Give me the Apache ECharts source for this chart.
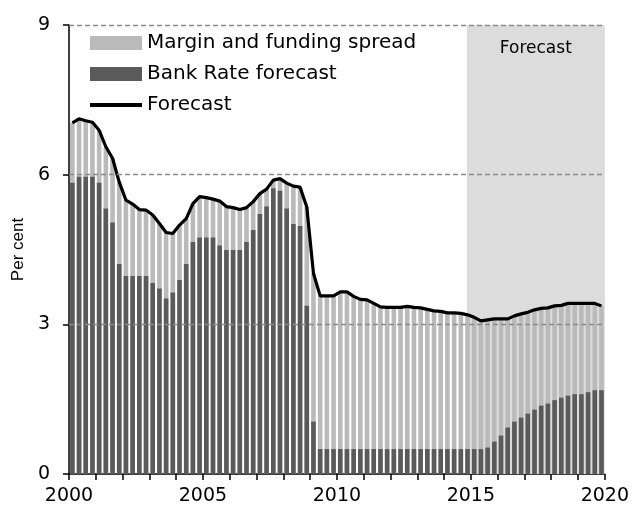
<!DOCTYPE html>
<html>
<head>
<meta charset="utf-8">
<script src="https://cdn.jsdelivr.net/npm/echarts@6/dist/echarts.min.js"></script>
<style>
  html, body { margin: 0; padding: 0; background: #fff; }
  #chart { width: 632px; height: 511px; }
</style>
</head>
<body>
<div id="chart"></div>
<script>
// quarterly, 2000 Q1 .. 2019 Q4
var startYear = 2000;
var yearTicks = [2000, 2005, 2010, 2015, 2020];

// Bank Rate forecast (dark bars)
var bankRate = [
  5.84, 5.96, 5.96, 5.96, 5.84, 5.32, 5.04, 4.21,
  3.97, 3.97, 3.97, 3.97, 3.83, 3.72, 3.52, 3.64,
  3.89, 4.21, 4.65, 4.74, 4.74, 4.74, 4.58, 4.49,
  4.49, 4.49, 4.65, 4.89, 5.21, 5.36, 5.73, 5.68,
  5.32, 5.01, 4.97, 3.37, 1.05, 0.5, 0.5, 0.5,
  0.5, 0.5, 0.5, 0.5, 0.5, 0.5, 0.5, 0.5,
  0.5, 0.5, 0.5, 0.5, 0.5, 0.5, 0.5, 0.5,
  0.5, 0.5, 0.5, 0.5, 0.5, 0.5, 0.53, 0.65,
  0.77, 0.93, 1.05, 1.13, 1.21, 1.29, 1.37, 1.41,
  1.48, 1.53, 1.57, 1.60, 1.60, 1.64, 1.68, 1.68
];

// total rate = Bank Rate + margin (black line, top of light bars)
var forecast = [
  7.04, 7.12, 7.08, 7.05, 6.89, 6.56, 6.33, 5.85,
  5.49, 5.41, 5.30, 5.29, 5.19, 5.02, 4.84, 4.82,
  4.99, 5.12, 5.42, 5.56, 5.54, 5.51, 5.47, 5.36,
  5.34, 5.30, 5.34, 5.46, 5.62, 5.71, 5.89, 5.92,
  5.83, 5.77, 5.75, 5.35, 4.02, 3.57, 3.57, 3.57,
  3.65, 3.65, 3.56, 3.50, 3.49, 3.42, 3.35, 3.34,
  3.34, 3.34, 3.36, 3.34, 3.33, 3.30, 3.27, 3.26,
  3.23, 3.23, 3.22, 3.19, 3.14, 3.07, 3.09, 3.11,
  3.11, 3.11, 3.17, 3.21, 3.24, 3.29, 3.32, 3.33,
  3.37, 3.38, 3.42, 3.42, 3.42, 3.42, 3.42, 3.37
];

var forecastStart = 2014.85;
var forecastEnd = 2020;

// x position of each quarter = middle of the quarter
var quarters = bankRate.map(function (v, i) {
  return startYear + (i + 0.5) / 4;
});
function pairs(arr) {
  return arr.map(function (v, i) { return [quarters[i], v]; });
}

var chart = echarts.init(document.getElementById('chart'));
var font = 'DejaVu Sans';

var option = {
  animation: false,
  backgroundColor: '#fff',
  textStyle: { fontFamily: font },
  grid: { left: 69, right: 24, top: 25, bottom: 37 },
  legend: {
    left: 88,
    top: 33,
    orient: 'vertical',
    padding: 0,
    itemWidth: 52,
    itemHeight: 14,
    itemGap: 11,
    textStyle: { fontSize: 20, color: '#000', fontFamily: font, lineHeight: 20 },
    data: [
      { name: 'Margin and funding spread', icon: 'rect' },
      { name: 'Bank Rate forecast', icon: 'rect' },
      { name: 'Forecast', itemStyle: { opacity: 0 }, lineStyle: { width: 4 } }
    ]
  },
  xAxis: {
    type: 'value',
    min: 2000,
    max: 2020,
    interval: 1,
    splitLine: { show: false },
    axisLine: { lineStyle: { color: '#000', width: 1.5 } },
    axisTick: { length: 6, lineStyle: { color: '#000', width: 1.5 } },
    axisLabel: {
      color: '#000',
      fontSize: 19,
      margin: 13,
      showMaxLabel: true,
      formatter: function (v) {
        return yearTicks.indexOf(v) >= 0 ? String(v) : '';
      }
    }
  },
  yAxis: {
    type: 'value',
    min: 0,
    max: 9,
    interval: 3,
    name: 'Per cent',
    nameLocation: 'middle',
    nameGap: 42,
    nameTextStyle: { fontFamily: 'Liberation Sans', fontSize: 17, color: '#000' },
    splitLine: { show: false },
    axisLine: { show: true, lineStyle: { color: '#000', width: 1.5 } },
    axisTick: { show: true, length: 6, lineStyle: { color: '#000', width: 1.5 } },
    axisLabel: { color: '#000', fontSize: 19, margin: 19 }
  },
  series: [
    {
      // forecast shading
      name: 'shade',
      type: 'line',
      data: [],
      z: 1,
      silent: true,
      markArea: {
        silent: true,
        itemStyle: { color: '#dcdcdc' },
        label: {
          show: true,
          position: 'insideTop',
          distance: 15,
          color: '#000',
          fontSize: 17,
          fontFamily: font
        },
        data: [[
          { name: 'Forecast', xAxis: forecastStart, yAxis: 0 },
          { xAxis: forecastEnd, yAxis: 9 }
        ]]
      }
    },
    {
      // light bar runs to the total; the dark Bank Rate bar sits over its lower part
      name: 'Margin and funding spread',
      type: 'bar',
      barWidth: 4.6,
      barGap: '-100%',
      z: 2,
      itemStyle: { color: '#bababa' },
      data: pairs(forecast)
    },
    {
      name: 'Bank Rate forecast',
      type: 'bar',
      barWidth: 4.6,
      barGap: '-100%',
      z: 2,
      itemStyle: { color: '#5a5a5a' },
      data: pairs(bankRate)
    },
    {
      // dashed gridlines drawn over the bars
      name: 'grid',
      type: 'line',
      data: [],
      z: 3,
      silent: true,
      markLine: {
        silent: true,
        symbol: 'none',
        label: { show: false },
        lineStyle: { color: '#8a8a8a', type: [5, 3], width: 1.3 },
        data: [{ yAxis: 3 }, { yAxis: 6 }, { yAxis: 9 }]
      }
    },
    {
      name: 'Forecast',
      type: 'line',
      z: 4,
      showSymbol: false,
      symbol: 'none',
      itemStyle: { color: '#000' },
      lineStyle: { color: '#000', width: 3.2 },
      data: pairs(forecast)
    }
  ]
};

chart.setOption(option);
</script>
</body>
</html>
